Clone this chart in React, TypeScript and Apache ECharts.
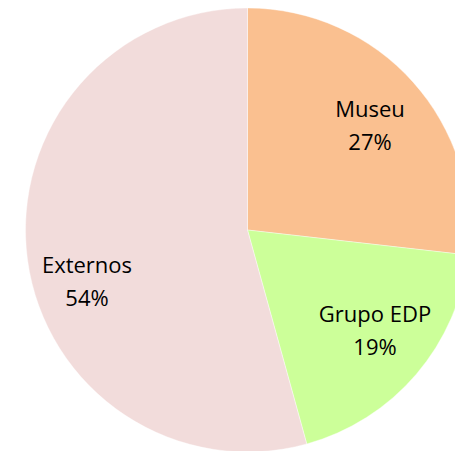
import React, { useEffect, useRef } from "react";
import * as echarts from "echarts";

const categories = ["Museu", "Grupo EDP", "Externos"];
const values = [26.8, 18.9, 54.3];
const colors = ["#FAC090", "#CCFF99", "#F2DCDB"];
// label anchor points (styling/layout)
const labelPos: [number, number][] = [
  [370, 124],
  [375, 329],
  [87, 280],
];

export default function App() {
  const ref = useRef<HTMLDivElement>(null);
  useEffect(() => {
    if (!ref.current) return;
    const chart = echarts.init(ref.current, undefined, { renderer: "svg" });
    chart.setOption({
      animation: false,
      backgroundColor: "#ffffff",
      series: [
        {
          type: "pie",
          center: [247.5, 230],
          radius: [0, 222],
          startAngle: 90,
          clockwise: true,
          avoidLabelOverlap: false,
          silent: true,
          data: categories.map((name, i) => ({
            name,
            value: values[i],
            itemStyle: { color: colors[i] },
          })),
          itemStyle: { borderColor: "#ffffff", borderWidth: 0.4 },
          label: {
            show: true,
            position: "inside",
            formatter: (p: any) => `${p.name}\n${Math.round(p.percent)}%`,
            fontFamily: "Open Sans",
            fontSize: 22,
            lineHeight: 33,
            color: "#000000",
            align: "center",
          },
          labelLine: { show: false },
          labelLayout: (params: any) => {
            const pos = labelPos[params.dataIndex];
            return { x: pos[0], y: pos[1], align: "center", verticalAlign: "middle" };
          },
        },
      ],
    });
    return () => chart.dispose();
  }, []);
  return (
    <div
      ref={ref}
      style={{ position: "fixed", left: 0, top: 0, width: 455, height: 451 }}
    />
  );
}
